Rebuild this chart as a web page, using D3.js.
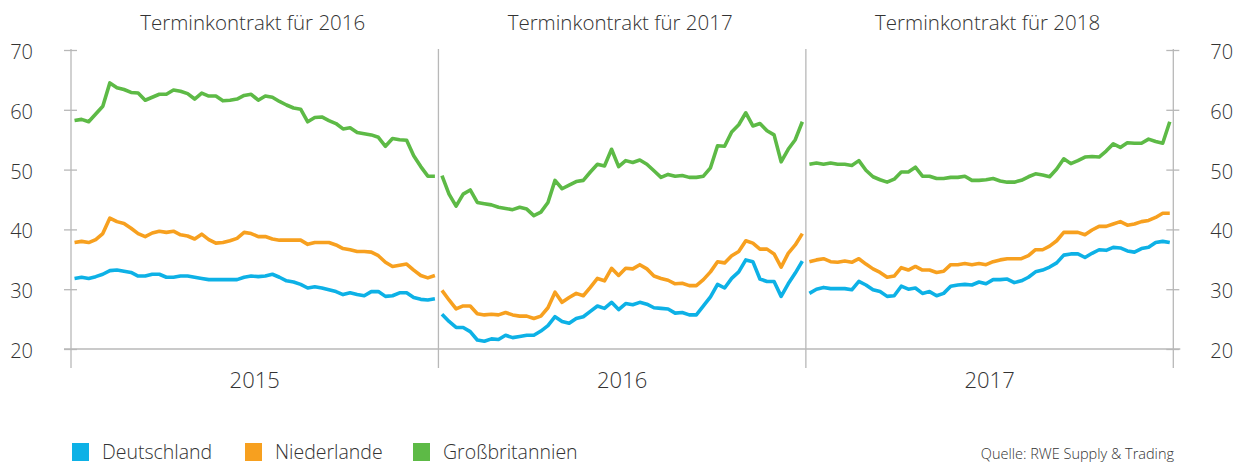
<!DOCTYPE html>
<html>
<head>
<meta charset="utf-8">
<script src="https://cdn.jsdelivr.net/npm/d3@7"></script>
<style>
  body { margin: 0; background: #fff; }
  svg text { font-family: "Open Sans", "DejaVu Sans", sans-serif; font-weight: 300; fill: #333; }
</style>
</head>
<body>
<div id="wrapper"></div>
<script>
// Werte je Woche (52 pro Jahr)
const years = ["2015", "2016", "2017"];
const titles = ["Terminkontrakt für 2016", "Terminkontrakt für 2017", "Terminkontrakt für 2018"];
const seriesNames = ["Deutschland", "Niederlande", "Großbritannien"];
const colors = ["#0db1e6", "#f7a01f", "#5dba46"];
const yTicks = [20, 30, 40, 50, 60, 70];

const deutschland = [
  // 2015
  31.8,32.0,31.8,32.1,32.5,33.1,33.2,33.0,32.8,32.2,32.2,32.5,32.5,32.0,32.0,32.2,32.2,32.0,31.8,31.6,31.6,31.6,31.6,31.6,32.0,32.2,
  32.1,32.2,32.5,32.0,31.4,31.2,30.8,30.2,30.4,30.2,29.9,29.6,29.1,29.4,29.1,28.9,29.6,29.6,28.8,28.9,29.4,29.4,28.6,28.3,28.2,28.4,
  // 2016
  25.8,24.6,23.6,23.6,22.9,21.5,21.3,21.7,21.6,22.3,21.9,22.1,22.3,22.3,23.0,23.9,25.4,24.6,24.3,25.1,25.4,26.3,27.2,26.8,27.8,26.6,
  27.6,27.4,27.8,27.5,26.9,26.8,26.7,26.0,26.1,25.7,25.7,27.2,28.7,30.8,30.2,31.8,32.9,34.9,34.6,31.7,31.3,31.3,28.8,30.9,32.7,34.7,
  // 2017
  29.3,30.0,30.3,30.1,30.1,30.1,29.9,31.3,30.7,29.9,29.6,28.8,28.9,30.5,30.0,30.2,29.3,29.6,28.9,29.3,30.5,30.7,30.8,30.7,31.2,30.9,
  31.6,31.6,31.7,31.1,31.4,32.0,32.9,33.2,33.7,34.4,35.7,35.9,35.9,35.3,36.0,36.6,36.5,37.0,36.9,36.4,36.2,36.8,37.0,37.8,38.0,37.8
];
const niederlande = [
  // 2015
  37.8,38.0,37.8,38.3,39.3,41.9,41.3,41.0,40.2,39.3,38.8,39.4,39.7,39.5,39.7,39.1,38.9,38.4,39.2,38.3,37.7,37.8,38.1,38.5,39.5,39.3,
  38.8,38.8,38.4,38.2,38.2,38.2,38.2,37.5,37.8,37.8,37.8,37.4,36.8,36.6,36.3,36.3,36.2,35.6,34.5,33.8,34.0,34.2,33.2,32.3,31.9,32.3,
  // 2016
  29.8,28.2,26.7,27.2,27.2,25.9,25.7,25.8,25.7,26.1,25.7,25.5,25.5,25.1,25.5,26.9,29.5,27.8,28.6,29.3,28.9,30.3,31.8,31.4,33.5,32.3,
  33.5,33.4,34.1,33.4,32.2,31.8,31.5,30.9,31.0,30.6,30.6,31.6,32.9,34.6,34.4,35.6,36.3,38.1,37.7,36.7,36.7,35.9,33.7,36.0,37.4,39.3,
  // 2017
  34.6,34.9,35.1,34.6,34.5,34.7,34.5,35.1,34.2,33.4,32.8,32.0,32.2,33.6,33.2,33.8,33.2,33.2,32.8,33.0,34.1,34.1,34.3,34.1,34.3,34.1,
  34.6,34.9,35.1,35.1,35.1,35.6,36.6,36.6,37.2,38.1,39.5,39.5,39.5,39.1,39.9,40.5,40.5,40.9,41.3,40.7,40.9,41.3,41.5,42.0,42.7,42.7
];
const grossbritannien = [
  // 2015
  58.2,58.4,58.0,59.3,60.6,64.5,63.7,63.4,62.9,62.8,61.6,62.1,62.6,62.6,63.3,63.1,62.7,61.8,62.8,62.3,62.3,61.5,61.6,61.8,62.4,62.6,
  61.6,62.3,62.1,61.4,60.8,60.3,60.1,58.0,58.7,58.8,58.2,57.7,56.8,57.0,56.2,56.0,55.8,55.4,53.9,55.2,55.0,54.9,52.3,50.5,48.9,48.9,
  // 2016
  49.0,45.9,43.9,45.9,46.6,44.5,44.3,44.1,43.7,43.5,43.3,43.7,43.4,42.3,42.9,44.5,48.2,46.8,47.4,48.0,48.2,49.6,50.9,50.6,53.4,50.5,
  51.5,51.2,51.6,50.9,49.8,48.7,49.2,48.9,49.0,48.7,48.7,48.9,50.3,54.0,53.9,56.3,57.5,59.5,57.3,57.7,56.5,55.8,51.3,53.4,55.0,58.0,
  // 2017
  50.9,51.1,50.9,51.1,50.9,50.9,50.7,51.5,49.9,48.8,48.3,47.9,48.4,49.6,49.6,50.4,48.9,48.9,48.5,48.5,48.7,48.7,48.9,48.2,48.2,48.3,
  48.5,48.1,47.9,47.9,48.2,48.8,49.3,49.1,48.8,50.1,51.8,51.0,51.5,52.1,52.2,52.1,53.1,54.3,53.7,54.5,54.4,54.4,55.1,54.7,54.4,58.0
];
const seriesValues = [deutschland, niederlande, grossbritannien];
const weeksPerYear = 52;

const width = 1248, height = 464;
const margin = { top: 50, left: 71, right: 1248 - 1173.3, bottom: 464 - 349 };

const svg = d3.select("#wrapper").append("svg")
  .attr("width", width)
  .attr("height", height);

const yScale = d3.scaleLinear()
  .domain([20, 70])
  .range([height - margin.bottom, margin.top]);

const panelScale = d3.scaleBand()
  .domain(years)
  .range([margin.left, width - margin.right])
  .padding(0);

const weekScale = d3.scalePoint()
  .domain(d3.range(weeksPerYear))
  .range([0, panelScale.bandwidth()])
  .padding(0.5);

const xOf = i => {
  const yearIdx = Math.floor(i / weeksPerYear);
  return panelScale(years[yearIdx]) + weekScale(i % weeksPerYear);
};

const gridColor = "#b8b8b8";

// vertical separators (incl. the two y axes)
const bounds = years.map(y => panelScale(y)).concat([panelScale(years[2]) + panelScale.bandwidth()]);
svg.append("g").selectAll("line")
  .data(bounds)
  .join("line")
  .attr("x1", d => d).attr("x2", d => d)
  .attr("y1", margin.top - 1).attr("y2", height - margin.bottom + 19)
  .attr("stroke", gridColor).attr("stroke-width", 1.3);

// baseline at 20
svg.append("line")
  .attr("x1", margin.left - 7).attr("x2", width - margin.right + 7)
  .attr("y1", yScale(20)).attr("y2", yScale(20))
  .attr("stroke", gridColor).attr("stroke-width", 1.3);

// y axes on both sides
const yAxisLeft = svg.append("g")
  .attr("transform", `translate(${margin.left},0)`)
  .call(d3.axisLeft(yScale).tickValues(yTicks).tickSize(7).tickPadding(31));
const yAxisRight = svg.append("g")
  .attr("transform", `translate(${width - margin.right},0)`)
  .call(d3.axisRight(yScale).tickValues(yTicks).tickSize(7).tickPadding(30));

[yAxisLeft, yAxisRight].forEach(ax => {
  ax.select(".domain").remove();
  ax.selectAll(".tick line")
    .attr("x1", -7).attr("x2", 6)
    .attr("stroke", gridColor).attr("stroke-width", 1.3);
  ax.selectAll(".tick text")
    .style("font-size", "20px")
    .attr("dy", "0.42em");
});

// titles and year labels
svg.append("g").selectAll("text")
  .data(titles)
  .join("text")
  .attr("x", (d, i) => panelScale(years[i]) + panelScale.bandwidth() / 2 - 2)
  .attr("y", 30)
  .attr("text-anchor", "middle")
  .style("font-size", "20.5px")
  .text(d => d);

svg.append("g").selectAll("text")
  .data(years)
  .join("text")
  .attr("x", d => panelScale(d) + panelScale.bandwidth() / 2)
  .attr("y", 388)
  .attr("text-anchor", "middle")
  .style("font-size", "22px")
  .text(d => d);

// lines, one path per year per series
const lineGenerator = d3.line()
  .x(d => xOf(d.i))
  .y(d => yScale(d.v));

const lines = svg.append("g");
seriesValues.forEach((vals, s) => {
  years.forEach((yr, k) => {
    const seg = vals.slice(k * weeksPerYear, (k + 1) * weeksPerYear)
      .map((v, j) => ({ i: k * weeksPerYear + j, v: v }));
    lines.append("path")
      .attr("d", lineGenerator(seg))
      .attr("fill", "none")
      .attr("stroke", colors[s])
      .attr("stroke-width", 3.6)
      .attr("stroke-linejoin", "round");
  });
});

// legend
const legendX = [72, 245, 413];
const legend = svg.append("g").selectAll("g")
  .data(seriesNames)
  .join("g")
  .attr("transform", (d, i) => `translate(${legendX[i]},443)`);
legend.append("rect")
  .attr("width", 17).attr("height", 18)
  .attr("fill", (d, i) => colors[i]);
legend.append("text")
  .attr("x", 30).attr("y", 15.5)
  .style("font-size", "19.5px")
  .text(d => d);

svg.append("text")
  .attr("x", 1174).attr("y", 459)
  .attr("text-anchor", "end")
  .style("font-size", "14.5px")
  .text("Quelle: RWE Supply & Trading");
</script>
</body>
</html>
